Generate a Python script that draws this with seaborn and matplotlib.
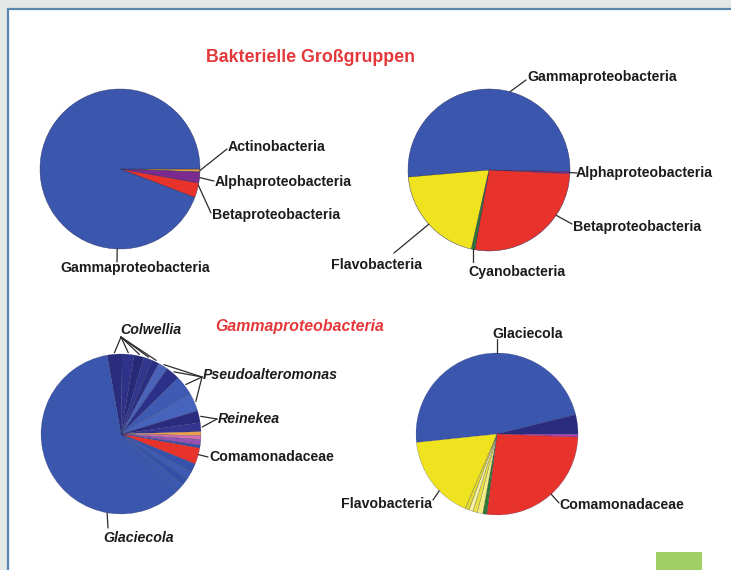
import numpy as np
import matplotlib
matplotlib.use("Agg")
import matplotlib.pyplot as plt
from matplotlib.patches import Rectangle
import seaborn as sns

W, H = 731, 570

# shares in percent, listed clockwise from each pie's start angle
tl_groups = ["Actinobacteria", "Alphaproteobacteria", "Betaproteobacteria", "Gammaproteobacteria"]
tl_share = [0.6, 2.2, 3.0, 94.2]

tr_groups = ["Gammaproteobacteria", "Alphaproteobacteria", "Betaproteobacteria", "Cyanobacteria", "Flavobacteria"]
tr_share = [51.7, 0.4, 27.1, 0.7, 20.1]

bl_taxa = (["Colwellia"] * 5 + ["Pseudoalteromonas"] * 4 + ["Reinekea"] * 2
           + ["other", "other", "other", "other", "Comamonadaceae"] + ["Glaciecola"] * 5)
bl_share = [3.0, 2.4, 2.0, 1.7, 1.5,
            2.0, 2.8, 4.0, 3.7,
            2.4, 1.8,
            0.8, 0.8, 1.1, 0.6, 3.3,
            1.8, 1.6, 1.4, 1.6, 59.7]

br_taxa = ["Glaciecola", "other", "other", "Comamonadaceae", "Cyanobacteria"] + ["Flavobacteria"] * 5
br_share = [47.8, 3.9, 0.55, 26.4, 0.8, 1.1, 0.9, 0.8, 0.8, 16.9]

BLUE = "#3b57ad"
RED = "#e8322c"
tl_colors = ["#e9a23b", "#7b2b8f", RED, BLUE]
tr_colors = [BLUE, "#7b2b8f", RED, "#2f7a2e", "#efe31f"]
bl_colors = ["#2a2c7e", "#2e3288", "#272a78", "#31368e", "#2b2f82",
             "#4a63b8", "#2c3088", "#3e5ab2", "#4664bb",
             "#2a2a7e", "#33358f",
             "#e9a050", "#d46fae", "#9552b0", "#3a50a8", RED,
             "#3553aa", "#3e5bb4", "#3250a5", "#3a58b0", BLUE]
br_colors = [BLUE, "#2a2c7e", "#b03cb0", RED, "#2f7a2e",
             "#f3ec80", "#e9e040", "#f6f0a0", "#e0d830", "#efe31f"]

sns.set_theme(style="white")
plt.rcParams['font.family'] = ['Liberation Sans', 'DejaVu Sans']

fig = plt.figure(figsize=(W / 100, H / 100), dpi=100, facecolor="#e4e8e7")
ax = fig.add_axes([0, 0, 1, 1])
ax.set_facecolor("#e4e8e7")

# white panel with blue frame, green tab at the bottom
ax.add_patch(Rectangle((8, 0), W, H - 9, facecolor="white", edgecolor="none", zorder=0))
ax.plot([8, W + 5], [H - 9, H - 9], color="#5b86ae", lw=1.6, zorder=0.5)
ax.plot([8, 8], [-5, H - 9], color="#5b86ae", lw=1.6, zorder=0.5)
ax.add_patch(Rectangle((656, 0), 46, 18, facecolor="#a0cf65", edgecolor="none", zorder=0.5))


def draw_pie(share, colors, cx, cy, r, start, lw=0.3):
    wedges, _ = ax.pie(share, colors=colors, startangle=start, counterclock=False,
                       center=(cx, H - cy), radius=r, frame=True,
                       wedgeprops=dict(edgecolor="#262b5e", linewidth=lw))
    return wedges


def rim(w, frac=0.5, rr=1.0):
    a = np.deg2rad(w.theta1 + frac * (w.theta2 - w.theta1))
    return w.center[0] + rr * w.r * np.cos(a), w.center[1] + rr * w.r * np.sin(a)


def rim_at(w, ang, rr=1.0):
    a = np.deg2rad(ang)
    return w.center[0] + rr * w.r * np.cos(a), w.center[1] + rr * w.r * np.sin(a)


def leader(p, x, y):
    ax.plot([p[0], x], [p[1], H - y], color="#2b2b2b", lw=0.9, zorder=3)


def label(x, y, s, ha="left", style="normal"):
    ax.text(x, H - y, s, ha=ha, va="center", fontsize=10.2, fontweight="bold",
            fontstyle=style, color="#1c1c1c", zorder=4)


# top left
w = draw_pie(tl_share, tl_colors, 120, 169, 80, 0)
leader(rim(w[0]), 227, 149)
label(228, 147, tl_groups[0])
leader(rim(w[1]), 214, 181)
label(215, 182, tl_groups[1])
leader(rim(w[2], 0.85), 211, 213)
label(212, 215, tl_groups[2])
leader(rim_at(w[3], -92), 117, 262)
label(135, 268, tl_groups[3], ha="center")

# top right
w = draw_pie(tr_share, tr_colors, 489, 170, 81, 185)
leader(rim_at(w[0], 75), 526, 80)
label(527, 77, tr_groups[0])
leader(rim(w[1]), 577, 173)
label(576, 173, tr_groups[1])
leader(rim_at(w[2], -34), 572, 224)
label(573, 227, tr_groups[2])
leader(rim(w[3]), rim(w[3])[0], 262)
label(517, 272, tr_groups[3], ha="center")
leader(rim_at(w[4], 222), 394, 253)
label(422, 265, tr_groups[4], ha="right")

# bottom left: Gammaproteobacteria split
w = draw_pie(bl_share, bl_colors, 121, 434, 80, 100, lw=0.15)
for i in range(0, 5):
    leader(rim(w[i], 0.5, 1.02), 121, 337)
for i in range(5, 9):
    leader(rim(w[i], 0.5, 1.02), 202, 377)
for i in range(9, 11):
    leader(rim(w[i], 0.5, 1.02), 217, 419)
leader(rim(w[15], 0.6), 208, 457)
leader(rim_at(w[20], 260), 108, 528)
label(151, 330, "Colwellia", ha="center", style="italic")
label(203, 375, "Pseudoalteromonas", style="italic")
label(218, 419, "Reinekea", style="italic")
label(209, 457, "Comamonadaceae")
label(139, 538, "Glaciecola", ha="center", style="italic")

# bottom right
w = draw_pie(br_share, br_colors, 497, 434, 81, 186, lw=0.15)
leader(rim_at(w[0], 90), 497, 339)
label(528, 334, "Glaciecola", ha="center")
leader(rim_at(w[3], -48), 559, 503)
label(559, 505, "Comamonadaceae")
leader(rim_at(w[9], 224.5), 433, 500)
label(432, 504, "Flavobacteria", ha="right")

# panel titles
ax.text(310, H - 57, "Bakterielle Großgruppen", ha="center", va="center",
        fontsize=12.8, fontweight="bold", color="#e4383a")
ax.text(300, H - 327, "Gammaproteobacteria", ha="center", va="center",
        fontsize=11.4, fontweight="bold", fontstyle="italic", color="#e4383a")

ax.set_xlim(0, W)
ax.set_ylim(0, H)
ax.set_aspect("equal")
ax.axis("off")

fig.savefig("out.png", dpi=100, facecolor=fig.get_facecolor())
plt.close(fig)
